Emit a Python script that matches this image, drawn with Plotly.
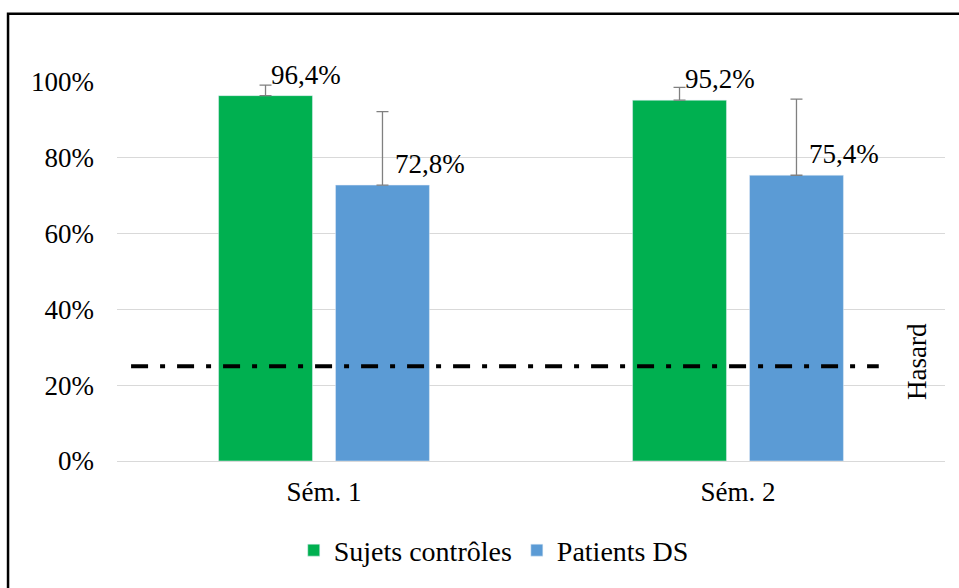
import plotly.graph_objects as go

categories = ["Sém. 1", "Sém. 2"]
controles = [96.4, 95.2]
controles_err = [2.8, 3.4]
patients = [72.8, 75.4]
patients_err = [19.4, 20.1]
hasard = 25
tick_vals = [0, 20, 40, 60, 80, 100]
tick_text = ["0%", "20%", "40%", "60%", "80%", "100%"]

FONT = "Times New Roman"
GREEN = "#00B050"
BLUE = "#5B9BD5"
ERR = "#808080"

fig = go.Figure()
fig.add_trace(go.Bar(
    x=categories, y=controles, name="Sujets contrôles", marker_color=GREEN,
    error_y=dict(type="data", array=controles_err, arrayminus=[0] * len(controles),
                 symmetric=False, color=ERR, thickness=1.3, width=6),
))
fig.add_trace(go.Bar(
    x=categories, y=patients, name="Patients DS", marker_color=BLUE,
    error_y=dict(type="data", array=patients_err, arrayminus=[0] * len(patients),
                 symmetric=False, color=ERR, thickness=1.3, width=6),
))

def fmt(v):
    return f"{v:.1f}".replace(".", ",") + "%"

for cat, v in zip(categories, controles):
    fig.add_annotation(x=cat, y=v, text=fmt(v), showarrow=False, xanchor="left",
                       yanchor="middle", xshift=-55, yshift=21,
                       font=dict(family=FONT, size=27, color="#000000"))
for cat, v in zip(categories, patients):
    fig.add_annotation(x=cat, y=v, text=fmt(v), showarrow=False, xanchor="left",
                       yanchor="middle", xshift=69, yshift=21,
                       font=dict(family=FONT, size=27, color="#000000"))

# chance line
fig.add_shape(type="line", xref="paper", yref="y", x0=0.017, x1=0.92, y0=hasard, y1=hasard,
              line=dict(color="#000000", width=4, dash="17px,12px,5px,12px"))
fig.add_annotation(xref="paper", yref="y", x=0.967, y=hasard, text="Hasard", textangle=-90,
                   showarrow=False, xanchor="center", yanchor="middle", yshift=5,
                   font=dict(family=FONT, size=27, color="#000000"))

# outer frame
fig.add_shape(type="rect", xref="paper", yref="paper", x0=-0.1316, x1=1.05, y0=-0.4, y1=1.18,
              line=dict(color="#000000", width=2.5), fillcolor="rgba(0,0,0,0)", layer="above")

fig.update_layout(
    width=959, height=588,
    margin=dict(l=117, r=14, t=82, b=123),
    paper_bgcolor="white", plot_bgcolor="white",
    barmode="group", bargap=0.435, bargroupgap=0.197,
    font=dict(family=FONT, size=27, color="#000000"),
    showlegend=True,
    legend=dict(orientation="h", x=0.455, xanchor="center", y=-0.17, yanchor="top",
                font=dict(family=FONT, size=28, color="#000000"), itemwidth=30,
                traceorder="normal"),
    xaxis=dict(type="category", range=[-0.5, 1.5], showgrid=False, showline=False,
               ticks="", ticklabelstandoff=12,
               tickfont=dict(family=FONT, size=27, color="#000000")),
    yaxis=dict(range=[0, 100], tickvals=tick_vals, ticktext=tick_text, showgrid=True,
               gridcolor="#D9D9D9", gridwidth=1, zeroline=True, zerolinecolor="#D9D9D9",
               zerolinewidth=1, showline=False, ticks="", ticklen=0, ticklabelstandoff=22,
               tickfont=dict(family=FONT, size=27, color="#000000")),
)

fig.write_html("out.html", config={"displayModeBar": False},
               post_script="document.body.style.margin='0';document.body.style.padding='0';")
